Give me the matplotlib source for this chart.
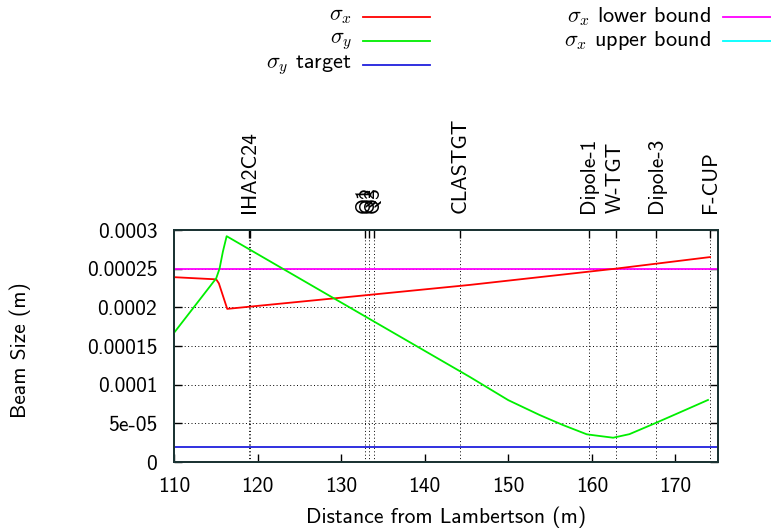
import numpy as np
import matplotlib
matplotlib.use("Agg")
from matplotlib import pyplot as plt
from matplotlib.lines import Line2D

plt.rcParams['font.family'] = ['cmss10', 'DejaVu Sans']
plt.rcParams['mathtext.fontset'] = 'cm'
plt.rcParams['axes.unicode_minus'] = False

# sigma_x (red)
sx_s = [108.0, 110.0, 115.05, 115.37, 116.37, 128.6, 145.4, 162.85, 174.15]
sx_v = [2.395e-4, 2.39e-4, 2.362e-4, 2.31e-4, 1.98e-4, 2.11e-4, 2.29e-4, 2.50e-4, 2.65e-4]

# sigma_y (green)
sy_s = [108.0, 110.0, 115.05, 115.45, 115.85, 116.3, 128.6, 145.4, 150.0, 153.75,
        156.5, 159.4, 160.3, 162.55, 164.5, 167.35, 170.5, 173.9]
sy_v = [1.42e-4, 1.67e-4, 2.375e-4, 2.50e-4, 2.72e-4, 2.92e-4, 2.15e-4, 1.10e-4, 8.0e-5, 6.08e-5,
        4.8e-5, 3.58e-5, 3.45e-5, 3.14e-5, 3.6e-5, 4.91e-5, 6.4e-5, 8.02e-5]

sx_lower = 2.5e-4
sx_upper = 3.5e-4
sy_target = 2.0e-5

# beamline elements (top axis)
elem_names = ["IHA2C24", "I", "Q1", "Q2", "Q3", "CLASTGT", "Dipole-1", "W-TGT", "Dipole-3", "F-CUP"]
elem_pos = [119.04, 118.98, 132.8, 133.3, 133.9, 144.25, 159.65, 162.85, 167.7, 174.15]

xticks = [110, 120, 130, 140, 150, 160, 170]
yticks = [0, 5e-5, 1e-4, 1.5e-4, 2e-4, 2.5e-4, 3e-4]
ytick_labels = ["0", "5e-05", "0.0001", "0.00015", "0.0002", "0.00025", "0.0003"]

fig = plt.figure(figsize=(7.71, 5.31), dpi=100)
ax = fig.add_axes([174/771, 1-462/531, 544/771, 232/531])

fs = 15.5
ax.plot(sx_s, sx_v, color='#ff0000', lw=1.3, zorder=3)
ax.plot(sy_s, sy_v, color='#00ee00', lw=1.3, zorder=3)
ax.axhline(sx_lower, color='#ff00ff', lw=1.3, zorder=2)
ax.axhline(sx_upper, color='#00ffff', lw=1.3, zorder=2)
ax.axhline(sy_target, color='#2020dd', lw=1.3, zorder=2)

ax.set_xlim(110, 175.1)
ax.set_ylim(0, 3e-4)

ax.set_xticks(xticks)
ax.set_xticklabels([str(t) for t in xticks], fontsize=fs)
ax.set_yticks(yticks)
ax.set_yticklabels(ytick_labels, fontsize=fs)
ax.tick_params(axis='x', direction='in', length=6, width=1, top=False, pad=11)
ax.tick_params(axis='y', direction='in', length=6, width=1, right=True, pad=12)

# horizontal grid on y ticks
for t in yticks[1:-1]:
    ax.axhline(t, color='black', lw=0.7, ls=(0, (1, 2.5)), zorder=1)

# top axis with element names
ax2 = ax.twiny()
ax2.set_xlim(ax.get_xlim())
ax2.set_xticks(elem_pos)
ax2.set_xticklabels(elem_names, rotation=90, fontsize=fs)
ax2.tick_params(axis='x', direction='in', length=6, width=1, pad=12)
for p in elem_pos:
    ax.axvline(p, color='black', lw=0.7, ls=(0, (1, 2.5)), zorder=1)

for a in (ax, ax2):
    for sp in a.spines.values():
        sp.set_color('#1a3333')
        sp.set_linewidth(1.3)

ax.set_xlabel("Distance from Lambertson (m)", fontsize=fs, labelpad=7)
fig.text(20/771, 1-350/531, "Beam Size (m)", rotation=90, ha='center', va='center', fontsize=fs)

# key, two columns, text right of sample
kfs = 16
key_rows = [
    (352, 363, 430, 17, r"$\sigma_x$", '#ff0000'),
    (352, 363, 430, 41, r"$\sigma_y$", '#00ee00'),
    (352, 363, 430, 65, r"$\sigma_y$ target", '#2020dd'),
    (711, 723, 790, 17, r"$\sigma_x$ lower bound", '#ff00ff'),
    (711, 723, 790, 41, r"$\sigma_x$ upper bound", '#00ffff'),
]
for tx, l0, l1, y, lab, col in key_rows:
    fig.text(tx/771, 1-y/531, lab, ha='right', va='center', fontsize=kfs)
    fig.add_artist(Line2D([l0/771, l1/771], [1-y/531, 1-y/531], color=col, lw=1.3,
                          transform=fig.transFigure))

fig.savefig("out.png", dpi=100)
